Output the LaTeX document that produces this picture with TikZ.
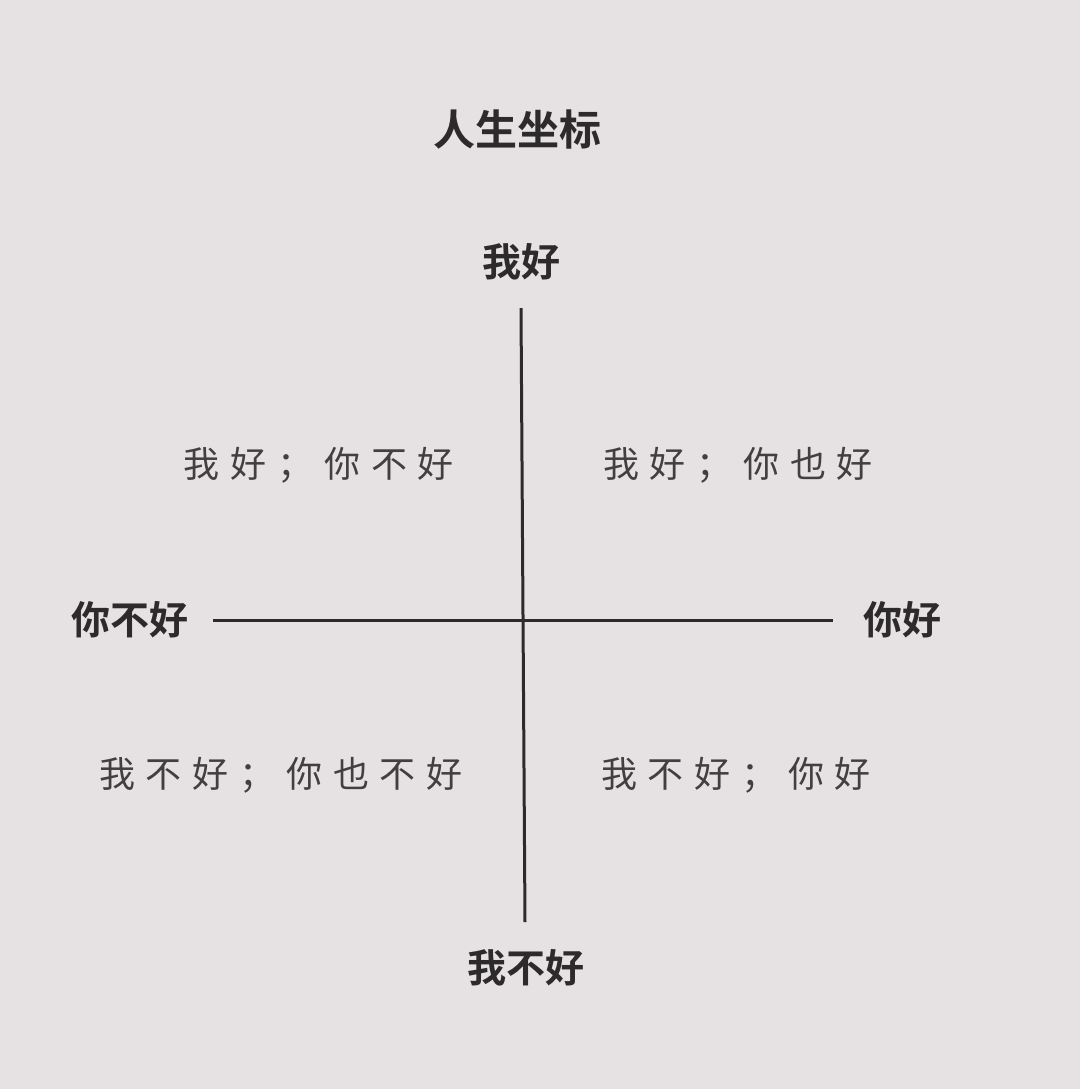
\documentclass[tikz,border=0pt]{standalone}
\usepackage{fontspec}
\newfontfamily\cjk{Noto Sans CJK SC}[BoldFont={* Bold}]
\newfontfamily\cjkwide{Noto Sans CJK SC}[LetterSpace=30]
\usepackage{tikz}
\usetikzlibrary{positioning}
\definecolor{paper}{HTML}{E6E2E4}
\definecolor{ink}{HTML}{2C2A2B}

\begin{document}
\begin{tikzpicture}[x=0.5pt, y=-0.5pt,
        heading/.style  = {text=ink, font=\cjk\bfseries\fontsize{21}{24}\selectfont, inner sep=0pt},
        axislabel/.style = {text=ink, font=\cjk\bfseries\fontsize{19.5}{23}\selectfont, inner sep=0pt},
        quadrant/.style  = {text=ink!90, font=\cjkwide\fontsize{18}{21}\selectfont, inner sep=0pt},
        axis/.style      = {draw=ink, line width=1.5pt}]

        % page
        \fill[paper] (0,0) rectangle (1080,1089);
        \useasboundingbox (0,0) rectangle (1080,1089);

        % title
        \node[heading] (title) at (517,130) {人生坐标};

        % axis labels
        \node[axislabel] (me ok)     at (521,262) {我好};
        \node[axislabel] (me notok)  at (526,968) {我不好};
        \node[axislabel] (you notok) at (130,620) {你不好};
        \node[axislabel] (you ok)    at (902,620) {你好};

        % ends of the two axes
        \coordinate (top)    at (521,308);
        \coordinate (bottom) at (525,922);
        \coordinate (left)   at (213,620);
        \coordinate (right)  at (833,620);

        \draw[axis] (top) -- (bottom);
        \draw[axis] (left) -- (right);

        % the four quadrants
        \node[quadrant] (q2) at (319,465) {我好；你不好};
        \node[quadrant] (q1) at (738,465) {我好；你也好};
        \node[quadrant] (q3) at (281,775) {我不好；你也不好};
        \node[quadrant] (q4) at (736,775) {我不好；你好};

\end{tikzpicture}
\end{document}
